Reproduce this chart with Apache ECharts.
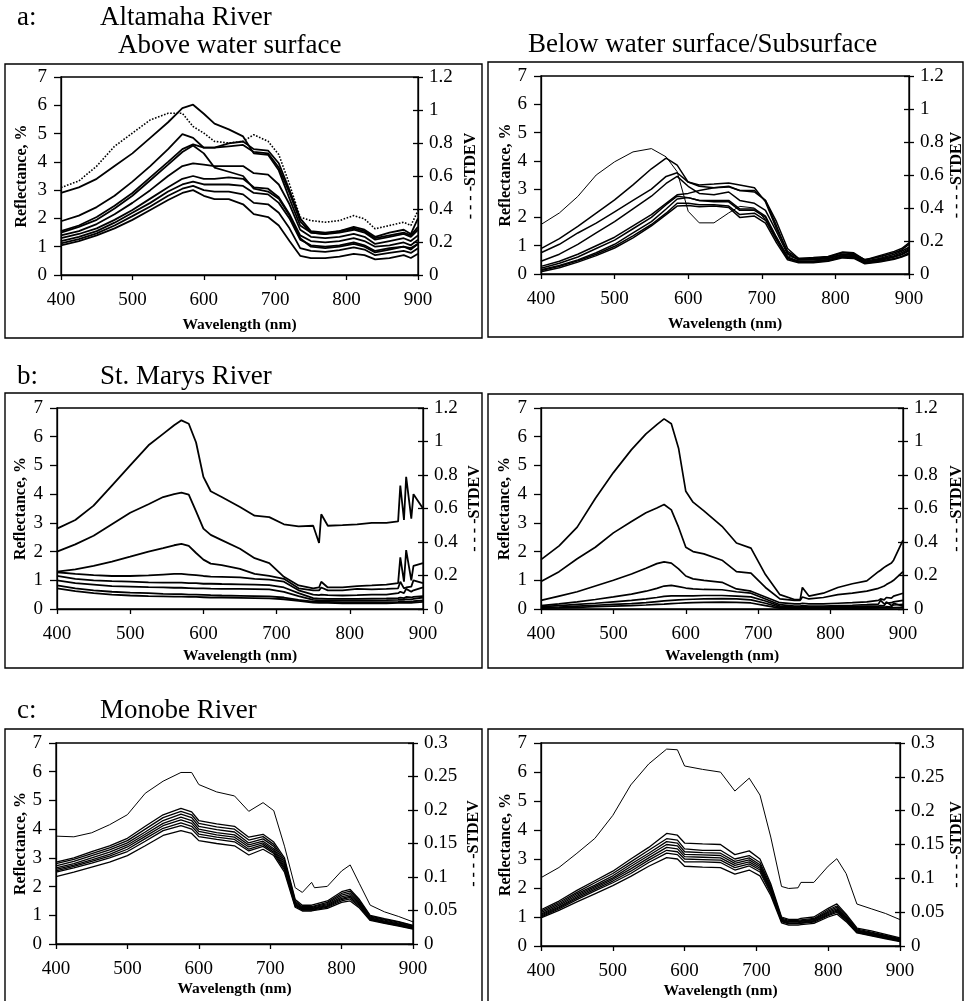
<!DOCTYPE html>
<html><head><meta charset="utf-8">
<script src="https://cdn.jsdelivr.net/npm/echarts@6/dist/echarts.min.js"></script>
<style>html,body{margin:0;padding:0;background:#fff}#c{width:966px;height:1001px}</style>
</head><body><div id="c"></div>
<script>
// ---------- DATA ----------
const wlAltamaha = [400,425,450,475,500,525,550,570,585,600,615,635,655,670,690,705,720,735,750,770,790,810,825,840,860,880,890,900];
const wlStMarys  = [400,425,450,475,500,525,545,560,570,580,590,600,610,625,650,670,690,710,730,750,758,761,770,790,810,830,850,866,869,874,877,884,887,900];
const wlMonobe   = [400,425,450,475,500,525,550,575,590,600,625,650,670,690,705,720,735,745,758,762,780,800,812,825,840,860,880,900];

// Altamaha, above water surface (reflectance %)
const altamahaAbove = [
 [2.9,3.1,3.4,3.85,4.3,4.85,5.4,5.9,6.02,5.7,5.35,5.15,4.9,4.3,4.25,3.7,2.7,1.75,1.5,1.45,1.55,1.7,1.6,1.35,1.5,1.6,1.45,2.0],
 [1.9,2.1,2.4,2.8,3.3,3.85,4.45,4.98,4.85,4.5,4.5,4.65,4.72,4.45,4.4,3.95,3.0,2.0,1.55,1.5,1.55,1.65,1.55,1.3,1.4,1.5,1.4,1.7],
 [1.55,1.75,2.05,2.45,2.9,3.45,4.0,4.45,4.62,4.5,4.5,4.55,4.6,4.35,4.3,3.8,2.9,1.9,1.5,1.45,1.5,1.6,1.5,1.25,1.35,1.45,1.35,1.6],
 [1.5,1.7,1.95,2.35,2.8,3.35,3.9,4.35,4.58,4.3,3.8,3.65,3.5,3.05,2.95,2.7,2.1,1.3,1.0,0.95,1.0,1.1,1.0,0.8,0.9,1.0,0.9,1.1],
 [1.4,1.55,1.8,2.15,2.55,3.0,3.5,3.85,3.95,3.9,3.85,3.85,3.85,3.6,3.55,3.2,2.5,1.6,1.35,1.3,1.35,1.45,1.35,1.1,1.2,1.3,1.2,1.4],
 [1.3,1.45,1.65,1.95,2.3,2.7,3.1,3.4,3.5,3.4,3.4,3.45,3.4,3.1,3.05,2.75,2.15,1.4,1.2,1.15,1.2,1.3,1.2,1.0,1.05,1.15,1.05,1.25],
 [1.2,1.35,1.55,1.85,2.2,2.55,2.95,3.2,3.3,3.2,3.2,3.2,3.15,2.9,2.85,2.55,2.0,1.25,1.05,1.0,1.05,1.15,1.05,0.85,0.95,1.0,0.95,1.1],
 [1.12,1.27,1.47,1.75,2.08,2.42,2.8,3.05,3.15,3.0,2.95,2.95,2.85,2.55,2.5,2.2,1.65,0.95,0.85,0.82,0.88,0.98,0.9,0.7,0.78,0.85,0.78,0.95],
 [1.05,1.2,1.4,1.65,1.95,2.3,2.65,2.9,3.0,2.8,2.68,2.68,2.5,2.15,2.05,1.75,1.2,0.68,0.6,0.6,0.65,0.75,0.7,0.55,0.6,0.7,0.6,0.75]
];
const stdevAltamahaAbove = [0.53,0.57,0.66,0.78,0.86,0.94,0.98,0.98,0.9,0.86,0.81,0.80,0.81,0.85,0.81,0.73,0.55,0.35,0.33,0.32,0.33,0.36,0.34,0.28,0.30,0.32,0.30,0.39];

// Altamaha, below water surface
const altamahaBelow = [
 [0.9,1.25,1.68,2.15,2.62,3.15,3.72,4.1,3.85,3.25,3.15,3.18,3.22,3.15,3.05,2.55,1.6,0.8,0.55,0.58,0.62,0.78,0.75,0.5,0.65,0.8,0.9,1.1],
 [0.75,1.05,1.45,1.8,2.2,2.6,3.0,3.45,3.58,3.25,3.1,3.05,3.08,2.95,2.9,2.6,1.85,0.9,0.55,0.55,0.6,0.75,0.72,0.48,0.62,0.75,0.85,1.05],
 [0.45,0.7,1.05,1.45,1.85,2.3,2.75,3.2,3.45,3.1,2.85,2.8,2.9,2.6,2.5,2.25,1.5,0.7,0.5,0.52,0.55,0.7,0.68,0.45,0.55,0.7,0.8,0.95],
 [0.27,0.45,0.7,1.0,1.3,1.7,2.1,2.5,2.8,2.85,2.95,3.05,3.1,2.95,2.95,2.6,1.7,0.75,0.5,0.5,0.55,0.68,0.65,0.42,0.52,0.65,0.75,0.9],
 [0.15,0.3,0.5,0.75,1.05,1.45,1.85,2.3,2.65,2.7,2.6,2.6,2.6,2.3,2.3,2.05,1.3,0.6,0.45,0.45,0.5,0.62,0.6,0.4,0.48,0.6,0.68,0.82],
 [0.12,0.27,0.47,0.7,0.98,1.35,1.75,2.15,2.5,2.5,2.45,2.45,2.4,2.1,2.15,1.9,1.2,0.55,0.42,0.42,0.47,0.6,0.58,0.38,0.45,0.55,0.62,0.75],
 [0.08,0.22,0.42,0.65,0.92,1.28,1.7,2.1,2.4,2.42,2.38,2.4,2.35,2.0,2.05,1.8,1.1,0.5,0.4,0.4,0.45,0.57,0.55,0.36,0.42,0.52,0.6,0.7],
 [0.2,0.38,0.6,0.9,1.2,1.6,2.0,2.45,2.75,2.7,2.6,2.55,2.55,2.25,2.25,2.0,1.25,0.55,0.45,0.45,0.5,0.65,0.62,0.4,0.5,0.62,0.7,0.85]
];
const stdevAltamahaBelow = [0.30,0.37,0.47,0.60,0.68,0.74,0.76,0.71,0.62,0.38,0.31,0.31,0.37,0.41,0.40,0.33,0.22,0.11,0.09,0.09,0.10,0.12,0.12,0.09,0.10,0.13,0.14,0.16];

// St. Marys, above water surface
const stMarysAbove = [
 [2.8,3.1,3.6,4.3,5.0,5.7,6.1,6.4,6.57,6.45,5.8,4.6,4.1,3.9,3.55,3.25,3.2,2.95,2.88,2.9,2.3,3.3,2.9,2.92,2.95,3.0,3.0,3.05,4.3,3.1,4.6,3.15,4.0,3.5],
 [2.0,2.25,2.55,2.95,3.35,3.65,3.9,4.0,4.05,3.98,3.4,2.8,2.58,2.4,2.1,1.77,1.6,1.12,0.82,0.72,0.75,0.95,0.75,0.75,0.8,0.82,0.85,0.9,1.8,0.95,2.05,1.0,1.5,1.6],
 [1.3,1.38,1.5,1.65,1.82,2.0,2.12,2.22,2.27,2.2,1.95,1.72,1.58,1.53,1.4,1.22,1.15,1.05,0.72,0.65,0.65,0.75,0.65,0.65,0.7,0.68,0.7,0.72,0.95,0.72,0.75,0.78,1.0,0.9],
 [1.28,1.22,1.18,1.15,1.15,1.17,1.2,1.22,1.22,1.2,1.18,1.15,1.13,1.12,1.1,1.05,1.02,0.95,0.65,0.5,0.48,0.5,0.48,0.47,0.48,0.5,0.5,0.55,0.6,0.55,0.7,0.6,0.65,0.75],
 [1.15,1.05,1.0,0.97,0.95,0.93,0.92,0.92,0.92,0.9,0.9,0.88,0.88,0.87,0.86,0.85,0.83,0.75,0.55,0.38,0.36,0.36,0.35,0.35,0.35,0.36,0.37,0.38,0.4,0.38,0.42,0.4,0.42,0.45],
 [1.0,0.9,0.85,0.8,0.78,0.76,0.75,0.74,0.74,0.73,0.72,0.72,0.71,0.7,0.7,0.69,0.68,0.6,0.45,0.32,0.3,0.3,0.3,0.3,0.3,0.3,0.31,0.32,0.33,0.32,0.34,0.33,0.35,0.4],
 [0.82,0.72,0.65,0.6,0.57,0.55,0.53,0.52,0.52,0.5,0.5,0.49,0.48,0.47,0.46,0.45,0.44,0.4,0.32,0.26,0.25,0.25,0.25,0.24,0.24,0.24,0.24,0.25,0.26,0.25,0.26,0.25,0.27,0.3],
 [0.72,0.62,0.55,0.5,0.47,0.45,0.44,0.43,0.43,0.42,0.42,0.41,0.4,0.4,0.39,0.38,0.37,0.34,0.28,0.22,0.21,0.21,0.21,0.2,0.2,0.2,0.2,0.21,0.21,0.21,0.22,0.21,0.22,0.25]
];

// St. Marys, below water surface
const stMarysBelow = [
 [1.72,2.2,2.85,3.85,4.75,5.55,6.1,6.42,6.62,6.45,5.6,4.1,3.72,3.42,2.88,2.3,2.12,1.2,0.5,0.33,0.33,0.75,0.45,0.55,0.75,0.88,0.98,1.3,1.35,1.45,1.5,1.6,1.7,2.4],
 [0.96,1.3,1.75,2.15,2.65,3.05,3.35,3.52,3.64,3.45,2.85,2.15,2.0,1.92,1.7,1.3,1.25,0.75,0.35,0.3,0.3,0.42,0.35,0.4,0.5,0.55,0.62,0.72,0.75,0.8,0.85,0.95,1.0,1.3],
 [0.3,0.45,0.6,0.8,1.0,1.22,1.42,1.58,1.64,1.6,1.4,1.15,1.05,1.0,0.93,0.7,0.62,0.42,0.22,0.18,0.18,0.2,0.18,0.18,0.2,0.22,0.25,0.3,0.35,0.32,0.4,0.38,0.45,0.55],
 [0.12,0.18,0.25,0.33,0.42,0.52,0.62,0.72,0.8,0.82,0.78,0.73,0.7,0.68,0.67,0.6,0.55,0.35,0.15,0.1,0.1,0.12,0.1,0.1,0.12,0.13,0.15,0.17,0.3,0.18,0.2,0.22,0.25,0.3],
 [0.08,0.12,0.16,0.2,0.25,0.3,0.35,0.4,0.44,0.46,0.46,0.46,0.46,0.47,0.47,0.45,0.42,0.28,0.1,0.07,0.07,0.08,0.07,0.07,0.08,0.08,0.1,0.1,0.12,0.11,0.25,0.12,0.14,0.16],
 [0.05,0.07,0.1,0.13,0.16,0.19,0.22,0.26,0.28,0.3,0.32,0.33,0.34,0.35,0.36,0.35,0.32,0.2,0.06,0.04,0.04,0.05,0.04,0.04,0.05,0.05,0.06,0.06,0.07,0.06,0.08,0.07,0.2,0.1],
 [0.03,0.04,0.06,0.08,0.1,0.12,0.14,0.16,0.17,0.19,0.2,0.21,0.22,0.23,0.24,0.23,0.21,0.12,0.03,0.02,0.02,0.03,0.02,0.02,0.03,0.03,0.03,0.04,0.04,0.04,0.05,0.04,0.05,0.06]
];

// Monobe, above water surface
const monobeAbove = [
 [2.85,3.0,3.22,3.42,3.68,4.1,4.5,4.72,4.6,4.3,4.18,4.1,3.72,3.82,3.55,3.0,1.55,1.35,1.35,1.38,1.5,1.82,1.9,1.55,1.0,0.88,0.78,0.65],
 [2.8,2.95,3.15,3.35,3.6,4.0,4.4,4.62,4.5,4.2,4.08,4.0,3.62,3.74,3.47,2.92,1.5,1.3,1.3,1.33,1.45,1.76,1.84,1.5,0.97,0.86,0.76,0.63],
 [2.72,2.88,3.08,3.28,3.52,3.9,4.3,4.52,4.4,4.1,3.98,3.9,3.52,3.66,3.4,2.84,1.45,1.27,1.27,1.3,1.41,1.7,1.78,1.46,0.94,0.83,0.73,0.61],
 [2.65,2.8,3.0,3.2,3.45,3.82,4.2,4.42,4.3,4.0,3.88,3.8,3.45,3.58,3.32,2.77,1.4,1.24,1.24,1.27,1.37,1.64,1.72,1.42,0.91,0.8,0.7,0.59],
 [2.6,2.75,2.93,3.12,3.38,3.75,4.12,4.32,4.2,3.92,3.8,3.72,3.38,3.52,3.26,2.7,1.37,1.22,1.22,1.25,1.34,1.59,1.67,1.38,0.89,0.78,0.68,0.57],
 [2.55,2.7,2.88,3.06,3.3,3.67,4.03,4.22,4.1,3.83,3.72,3.64,3.3,3.46,3.2,2.64,1.35,1.2,1.2,1.22,1.31,1.55,1.62,1.34,0.87,0.76,0.66,0.56],
 [2.5,2.65,2.82,3.0,3.22,3.58,3.95,4.12,4.0,3.74,3.64,3.56,3.24,3.4,3.15,2.58,1.32,1.18,1.18,1.2,1.28,1.5,1.57,1.3,0.85,0.74,0.64,0.54],
 [2.35,2.5,2.68,2.85,3.08,3.42,3.78,3.95,3.85,3.6,3.5,3.42,3.1,3.3,3.08,2.5,1.28,1.15,1.15,1.17,1.24,1.45,1.5,1.25,0.82,0.72,0.62,0.52]
];
const stdevMonobeAbove = [0.161,0.160,0.166,0.178,0.193,0.225,0.243,0.256,0.256,0.238,0.227,0.221,0.198,0.211,0.199,0.146,0.084,0.077,0.092,0.084,0.086,0.109,0.118,0.09,0.058,0.048,0.041,0.033];

// Monobe, below water surface
const monobeBelow = [
 [1.25,1.55,1.92,2.25,2.58,3.0,3.4,3.88,3.82,3.55,3.52,3.5,3.15,3.28,3.0,2.15,1.0,0.92,0.92,0.95,1.0,1.3,1.45,1.1,0.62,0.52,0.4,0.28],
 [1.2,1.5,1.85,2.18,2.5,2.9,3.3,3.7,3.65,3.35,3.3,3.3,3.0,3.12,2.88,2.08,0.96,0.88,0.88,0.9,0.95,1.25,1.38,1.05,0.58,0.48,0.37,0.25],
 [1.15,1.45,1.8,2.1,2.42,2.82,3.2,3.6,3.55,3.25,3.22,3.2,2.92,3.04,2.8,2.02,0.93,0.85,0.85,0.87,0.92,1.2,1.33,1.0,0.55,0.45,0.35,0.23],
 [1.1,1.4,1.75,2.05,2.35,2.74,3.12,3.5,3.45,3.16,3.14,3.12,2.85,2.97,2.74,1.97,0.9,0.83,0.83,0.85,0.9,1.16,1.28,0.97,0.53,0.43,0.33,0.21],
 [1.07,1.35,1.7,2.0,2.3,2.66,3.04,3.4,3.35,3.08,3.06,3.04,2.78,2.9,2.68,1.92,0.88,0.8,0.8,0.82,0.87,1.12,1.24,0.94,0.51,0.41,0.31,0.2],
 [1.03,1.32,1.65,1.95,2.24,2.58,2.96,3.3,3.25,3.0,2.98,2.96,2.7,2.83,2.62,1.87,0.86,0.78,0.78,0.8,0.85,1.08,1.2,0.91,0.49,0.39,0.29,0.18],
 [1.0,1.28,1.6,1.9,2.18,2.5,2.88,3.2,3.15,2.9,2.9,2.88,2.62,2.76,2.55,1.82,0.84,0.76,0.76,0.78,0.82,1.05,1.16,0.88,0.47,0.37,0.27,0.17],
 [0.97,1.23,1.52,1.8,2.08,2.4,2.75,3.05,3.0,2.75,2.72,2.7,2.48,2.62,2.42,1.74,0.8,0.72,0.72,0.74,0.78,1.0,1.1,0.84,0.45,0.35,0.25,0.15]
];
const stdevMonobeBelow = [0.101,0.116,0.137,0.159,0.193,0.238,0.269,0.291,0.29,0.266,0.261,0.257,0.229,0.248,0.223,0.161,0.088,0.085,0.086,0.094,0.094,0.118,0.129,0.107,0.062,0.055,0.048,0.039];

const xTicks = {min:400, max:900, step:100};
const reflTicks = {min:0, max:7, step:1};
const stdevTicksAB = {min:0, max:1.2, step:0.2};
const stdevTicksC = {min:0, max:0.3, step:0.05};

// ---------- LAYOUT ----------
const FONT = 'Liberation Serif';
const panels = [
 {grid:{left:61,top:77,width:357,height:198}, wl:wlAltamaha, curves:altamahaAbove, stdev:stdevAltamahaAbove, stdevType:'dotted', rt:stdevTicksAB, lw:1.8, lGap:31, rGap:45, xGap:42},
 {grid:{left:541,top:76,width:368,height:198}, wl:wlAltamaha, curves:altamahaBelow, stdev:stdevAltamahaBelow, stdevType:'solid', rt:stdevTicksAB, lw:1.5, lGap:26, rGap:40, xGap:42},
 {grid:{left:57,top:408,width:366,height:201}, wl:wlStMarys, curves:stMarysAbove, stdev:null, rt:stdevTicksAB, lw:1.8, lGap:28, rGap:44, xGap:39},
 {grid:{left:541,top:408,width:367,height:201}, wl:wlStMarys, curves:stMarysBelow, stdev:null, rt:stdevTicksAB, lw:1.7, lGap:28, rGap:46, xGap:39},
 {grid:{left:56,top:743,width:357,height:201}, wl:wlMonobe, curves:monobeAbove, stdev:stdevMonobeAbove, stdevType:'solid', rt:stdevTicksC, lw:1.3, lGap:27, rGap:53, xGap:37},
 {grid:{left:541,top:743,width:361,height:203}, wl:wlMonobe, curves:monobeBelow, stdev:stdevMonobeBelow, stdevType:'solid', rt:stdevTicksC, lw:1.3, lGap:26, rGap:49, xGap:37}
];

const axisLine = {show:true, onZero:false, lineStyle:{color:'#000', width:1.3}};
const tickStyle = {color:'#000', width:1.3};
const labelStyle = {color:'#000', fontFamily:FONT, fontSize:19};
const nameStyle = {color:'#000', fontFamily:FONT, fontSize:16, fontWeight:'bold'};

const grid=[], xAxis=[], yAxis=[], series=[];
panels.forEach((p,i)=>{
  grid.push(Object.assign({show:true, borderColor:'#000', borderWidth:1.3, backgroundColor:'transparent'}, p.grid));
  xAxis.push({type:'value', gridIndex:i, min:xTicks.min, max:xTicks.max, interval:xTicks.step,
    axisLine, axisTick:{show:true, length:5, lineStyle:tickStyle}, splitLine:{show:false},
    axisLabel:Object.assign({margin:16}, labelStyle),
    name:'Wavelength (nm)', nameLocation:'middle', nameGap:p.xGap, nameTextStyle:Object.assign({}, nameStyle, {fontSize:15.5})});
  yAxis.push({type:'value', gridIndex:i, position:'left', min:reflTicks.min, max:reflTicks.max, interval:reflTicks.step,
    axisLine, axisTick:{show:true, length:7, lineStyle:tickStyle}, splitLine:{show:false},
    axisLabel:Object.assign({margin:14}, labelStyle),
    name:'Reflectance, %', nameLocation:'middle', nameRotate:90, nameGap:p.lGap, nameTextStyle:nameStyle});
  yAxis.push({type:'value', gridIndex:i, position:'right', min:p.rt.min, max:p.rt.max, interval:p.rt.step,
    axisLine, axisTick:{show:true, length:5, lineStyle:tickStyle}, splitLine:{show:false},
    axisLabel:Object.assign({margin:11}, labelStyle),
    name:'- - - -STDEV', nameLocation:'middle', nameRotate:90, nameGap:p.rGap, nameTextStyle:nameStyle});
  yAxis.push({type:'value', gridIndex:i, position:'right', min:p.rt.min, max:p.rt.max, interval:p.rt.step,
    axisLine:{show:false}, axisTick:{show:true, inside:true, length:5, lineStyle:tickStyle},
    axisLabel:{show:false}, splitLine:{show:false}});
  p.curves.forEach(vals=>{
    series.push({type:'line', xAxisIndex:i, yAxisIndex:i*3, symbol:'none', silent:true,
      lineStyle:{color:'#000', width:p.lw}, data:p.wl.map((w,k)=>[w, vals[k]])});
  });
  if (p.stdev) {
    series.push({type:'line', xAxisIndex:i, yAxisIndex:i*3+1, symbol:'none', silent:true,
      lineStyle:{color:'#000', width:p.stdevType==='dotted'?1.6:1, type:p.stdevType},
      data:p.wl.map((w,k)=>[w, p.stdev[k]])});
  }
});

const tText = (x,y,t,size)=>({type:'text', x, y, silent:true,
  style:{text:t, fill:'#000', font:`${size||27}px "${FONT}"`, textAlign:'left', textVerticalAlign:'middle'}});
const box = (x,y,w,h)=>({type:'rect', silent:true, shape:{x,y,width:w,height:h},
  style:{fill:null, stroke:'#000', lineWidth:1.4}});

const graphic = [
  box(5,64,477,274), box(488,62,475,275),
  box(5,393,477,275), box(488,394,475,274),
  box(5,729,477,290), box(488,729,475,290),
  tText(17,18,'a:'), tText(100,18,'Altamaha River'),
  tText(118,46,'Above water surface'), tText(528,45,'Below water surface/Subsurface'),
  tText(17,377,'b:'), tText(100,377,'St. Marys River'),
  tText(17,711,'c:'), tText(100,711,'Monobe River')
];

const chart = echarts.init(document.getElementById('c'), null, {renderer:'canvas'});
chart.setOption({animation:false, backgroundColor:'#fff', grid, xAxis, yAxis, series, graphic, tooltip:{show:false}});
</script>
</body></html>
